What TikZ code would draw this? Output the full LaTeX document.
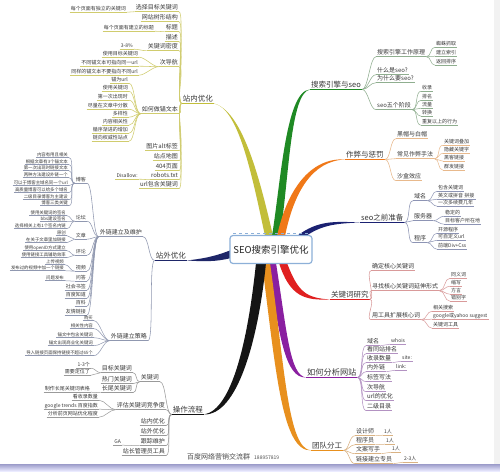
\documentclass[tikz,border=0pt]{standalone}
\usepackage{fontspec}
\setmainfont{Noto Sans CJK SC}
\usetikzlibrary{calc}
\pgfdeclarelayer{bg}
\pgfdeclarelayer{back}
\pgfsetlayers{back,bg,main}
\definecolor{cY}{HTML}{C2BE3A}\definecolor{lY}{HTML}{D0CC6E}
\definecolor{cG}{HTML}{1F8A24}\definecolor{lG}{HTML}{8FAE8F}
\definecolor{cO}{HTML}{F07818}\definecolor{lO}{HTML}{E8B98C}
\definecolor{cN}{HTML}{1B2272}\definecolor{lN}{HTML}{8D94B4}
\definecolor{cR}{HTML}{E02020}\definecolor{lR}{HTML}{D99A9A}
\definecolor{cP}{HTML}{8A1FA0}\definecolor{lP}{HTML}{B392C2}
\definecolor{cA}{HTML}{E8901E}\definecolor{lA}{HTML}{D9B283}
\definecolor{cK}{HTML}{151515}\definecolor{lK}{HTML}{9A9A9A}
\definecolor{cS}{HTML}{1E2668}\definecolor{lS}{HTML}{9098B0}
\definecolor{boxc}{HTML}{8DB0D8}
\begin{document}
\begin{tikzpicture}[x=1pt,y=-1pt,
 base/.style={inner xsep=1pt,inner ysep=0.6pt,text=black!78},
 m/.style={base,font={\fontsize{7.5}{8}\selectfont},text height=6pt,text depth=1.3pt},
 s/.style={base,font={\fontsize{6}{7}\selectfont},text height=4.8pt,text depth=1pt},
 t/.style={base,font={\fontsize{5}{6}\selectfont},text height=4pt,text depth=.8pt},
 tt/.style={base,font={\fontsize{4.4}{5}\selectfont},text height=3.5pt,text depth=.7pt,inner ysep=.4pt},
 u/.style={append after command={(\tikzlastnode.south west) edge[draw=#1,line width=.55pt] (\tikzlastnode.south east)}},
 U/.style={append after command={(\tikzlastnode.south west) edge[draw=#1,line width=1.1pt] (\tikzlastnode.south east)}},
 toL/.style={out=180,in=0,max distance=6pt},
 toR/.style={out=0,in=180,max distance=6pt},
]
\useasboundingbox (0,0) rectangle (500,471);
\begin{pgfonlayer}{back}
\fill[white] (0,0) rectangle (500,471);
\fill[black!5] (494,0) rectangle (500,464);
\fill[top color=blue!30!gray!60, bottom color=blue!8] (0,464) rectangle (500,471);
\end{pgfonlayer}

% root
\node[draw=boxc,line width=1.2pt,rounded corners=3pt,fill=white,minimum width=82pt,minimum height=28pt,
  font={\fontsize{9.5}{11}\selectfont},inner sep=2pt,text=black!85] (root) at (271,249.5) {SEO搜索引擎优化};
\draw[boxc,dashed,line width=1pt] ($(root.north west)+(4,-1.6)$) -- ($(root.north east)+(-4,-1.6)$);

% ---------------- 站内优化
\begin{scope}[every node/.append style={u=lY}]
\node[m,U=cY,anchor=east] (zn) at (214,99) {站内优化};
\node[s,anchor=east] (zn1) at (179,8) {选择目标关键词};
\node[s,anchor=east] (zn2) at (179,18) {网站树形结构};
\node[s,anchor=east] (zn3) at (179,28) {标题};
\node[s,anchor=east] (zn4) at (179,38) {描述};
\node[s,anchor=east] (zn5) at (179,47) {关键词密度};
\node[s,anchor=east] (zn6) at (179,63) {次导航};
\node[s,anchor=east] (zn7) at (179,110) {如何做锚文本};
\node[s,anchor=east] (zn8) at (179,147) {图片alt标签};
\node[s,anchor=east] (zn9) at (179,157) {站点地图};
\node[s,anchor=east] (zn10) at (179,167) {404页面};
\node[s,anchor=east] (zn11) at (179,176) {robots.txt};
\node[s,anchor=east] (zn12) at (179,185) {url包含关键词};
\node[t,anchor=east] (zn1a) at (127,9) {每个页面有独立的关键词};
\node[t,anchor=east] (zn3a) at (155,28) {每个页面有建立的标题};
\node[t,anchor=east] (zn5a) at (134,46) {3-8\%};
\node[t,anchor=east] (zn6a) at (139,54) {使用目标关键词};
\node[t,anchor=east] (zn6b) at (139,63) {不同锚文本可指向同一url};
\node[t,anchor=east] (zn6c) at (139,72) {同样的锚文本不要指向不同url};
\node[t,anchor=east] (zn7a) at (129,80) {锚为url};
\node[t,anchor=east] (zn7b) at (129,88) {使用关键词};
\node[t,anchor=east] (zn7c) at (129,97) {第一次出现时};
\node[t,anchor=east] (zn7d) at (129,106) {尽量在文章中分散};
\node[t,anchor=east] (zn7e) at (129,114) {多样性};
\node[t,anchor=east] (zn7f) at (129,122) {内容相关性};
\node[t,anchor=east] (zn7g) at (129,130) {循序渐进的增加};
\node[t,anchor=east] (zn7h) at (129,138) {链向权威性站点};
\node[t,anchor=east] (zn11a) at (139,176) {Disallow:};
\end{scope}
\foreach \c in {zn1,zn2,zn3,zn4,zn5,zn6,zn7,zn8,zn9,zn10,zn11,zn12}
  \draw[lY,line width=.55pt] (zn.south west) to[toL] (\c.south east);
\draw[lY,line width=.55pt] (zn1.south west) to[toL] (zn1a.south east);
\draw[lY,line width=.55pt] (zn3.south west) to[toL] (zn3a.south east);
\draw[lY,line width=.55pt] (zn5.south west) to[toL] (zn5a.south east);
\foreach \c in {zn6a,zn6b,zn6c} \draw[lY,line width=.55pt] (zn6.south west) to[toL] (\c.south east);
\foreach \c in {zn7a,zn7b,zn7c,zn7d,zn7e,zn7f,zn7g,zn7h} \draw[lY,line width=.55pt] (zn7.south west) to[toL] (\c.south east);
\draw[lY,line width=.55pt] (zn11.south west) to[toL] (zn11a.south east);

% ---------------- 站外优化
\begin{scope}[every node/.append style={u=lS}]
\node[m,U=cS,anchor=east] (zw) at (187,256) {站外优化};
\node[s,anchor=east] (zw1) at (143,233) {外链建立及维护};
\node[s,anchor=east] (zw2) at (148,337) {外链建立策略};
\node[t,anchor=east] (bk) at (87,180) {博客};
\node[t,anchor=east] (lt) at (87,218) {论坛};
\node[t,anchor=east] (wz) at (87,236) {文章};
\node[t,anchor=east] (pl) at (87,252) {评论};
\node[t,anchor=east] (sp) at (87,268) {视频};
\node[t,anchor=east] (wd) at (87,278) {问答};
\node[t,anchor=east] (sq) at (87,287) {社会书签};
\node[t,anchor=east] (zd) at (87,295) {百度知道};
\node[t,anchor=east] (bkk) at (87,303) {百科};
\node[t,anchor=east] (yq) at (87,312) {友情链接};
\node[tt,anchor=east] (bk1) at (69,155) {内容有用且相关};
\node[tt,anchor=east] (bk2) at (69,162) {根据文章有3个锚文本};
\node[tt,anchor=east] (bk3) at (69,168) {第一次出现时链接文本};
\node[tt,anchor=east] (bk4) at (69,175) {两种方法建设外链一个};
\node[tt,anchor=east] (bk5) at (69,183) {可以于博客主域名同一个url};
\node[tt,anchor=east] (bk6) at (69,190) {高质量博客可以给多个域名};
\node[tt,anchor=east] (bk7) at (69,197) {二级目录博客为主建设};
\node[tt,anchor=east] (bk8) at (69,203) {博客三类关键};
\node[tt,anchor=east] (lt1) at (67,213) {使用关键词的签名};
\node[tt,anchor=east] (lt2) at (67,219) {bbs建设签名};
\node[tt,anchor=east] (lt3) at (67,226) {选择相关上有1个签名内链};
\node[tt,anchor=east] (wz1) at (67,233) {原创};
\node[tt,anchor=east] (wz2) at (67,240) {在关于文章里加链接};
\node[tt,anchor=east] (pl1) at (67,248) {使用openID方式建立};
\node[tt,anchor=east] (pl2) at (67,255) {使用链接工具辅助效率};
\node[tt,anchor=east] (sp1) at (65,262) {上传视频};
\node[tt,anchor=east] (sp2) at (65,268) {发布过的视频中加一个链接};
\node[tt,anchor=east] (wd1) at (65,278) {问题发布};
\node[tt,anchor=east] (cl1) at (94,318) {购买};
\node[tt,anchor=east] (cl2) at (94,326) {相关性内容};
\node[tt,anchor=east] (cl3) at (94,335) {锚文中包含关键词};
\node[tt,anchor=east] (cl4) at (94,343) {锚文出现商业化关键词};
\node[tt,anchor=east] (cl5) at (94,353) {导入链接页面保持链接不超过65个};
\end{scope}
\foreach \c in {zw1,zw2} \draw[lS,line width=.55pt] (zw.south west) to[toL] (\c.south east);
\foreach \c in {bk,lt,wz,pl,sp,wd,sq,zd,bkk,yq} \draw[lS,line width=.55pt] (zw1.south west) to[toL] (\c.south east);
\foreach \c in {bk1,bk2,bk3,bk4,bk5,bk6,bk7,bk8} \draw[lS,line width=.5pt] (bk.south west) to[toL] (\c.south east);
\foreach \c in {lt1,lt2,lt3} \draw[lS,line width=.5pt] (lt.south west) to[toL] (\c.south east);
\foreach \c in {wz1,wz2} \draw[lS,line width=.5pt] (wz.south west) to[toL] (\c.south east);
\foreach \c in {pl1,pl2} \draw[lS,line width=.5pt] (pl.south west) to[toL] (\c.south east);
\foreach \c in {sp1,sp2} \draw[lS,line width=.5pt] (sp.south west) to[toL] (\c.south east);
\draw[lS,line width=.5pt] (wd.south west) to[toL] (wd1.south east);
\foreach \c in {cl1,cl2,cl3,cl4,cl5} \draw[lS,line width=.5pt] (zw2.south west) to[toL] (\c.south east);

% ---------------- 操作流程
\begin{scope}[every node/.append style={u=lK}]
\node[m,U=cK,anchor=east] (cz) at (204,410) {操作流程};
\node[s,anchor=east] (cz1) at (160,378) {关键词};
\node[s,anchor=east] (cz2) at (166,406) {评估关键词竞争度};
\node[s,anchor=east] (cz3) at (166,422) {站内优化};
\node[s,anchor=east] (cz4) at (166,432) {站外优化};
\node[s,anchor=east] (cz5) at (166,442) {跟踪维护};
\node[s,anchor=east] (cz6) at (166,452) {站长管理员工具};
\node[s,anchor=east] (k1) at (133,369) {目标关键词};
\node[s,anchor=east] (k2) at (133,380) {热门关键词};
\node[s,anchor=east] (k3) at (133,389) {长尾关键词};
\node[t,anchor=east] (k1a) at (91,365) {1-3个};
\node[t,anchor=east] (k1b) at (91,372) {需要定位了};
\node[t,anchor=east] (k3a) at (91,389) {制作长尾关键词表格};
\node[t,anchor=east] (p1) at (99,397) {看收录数量};
\node[t,anchor=east] (p2) at (99,406) {google trends 百度指数};
\node[t,anchor=east] (p3) at (99,414) {分析前页网站优化程度};
\node[t,anchor=east] (ga) at (122,442) {GA};
\end{scope}
\foreach \c in {cz1,cz2,cz3,cz4,cz5,cz6} \draw[lK,line width=.55pt] (cz.south west) to[toL] (\c.south east);
\foreach \c in {k1,k2,k3} \draw[lK,line width=.55pt] (cz1.south west) to[toL] (\c.south east);
\foreach \c in {k1a,k1b} \draw[lK,line width=.5pt] (k1.south west) to[toL] (\c.south east);
\draw[lK,line width=.5pt] (k3.south west) to[toL] (k3a.south east);
\foreach \c in {p1,p2,p3} \draw[lK,line width=.5pt] (cz2.south west) to[toL] (\c.south east);
\draw[lK,line width=.5pt] (cz5.south west) to[toL] (ga.south east);

% ---------------- 搜索引擎与seo
\begin{scope}[every node/.append style={u=lG}]
\node[m,U=cG,anchor=west] (ss) at (310,85) {搜索引擎与seo};
\node[s,anchor=west] (ss1) at (376,53) {搜索引擎工作原理};
\node[s,anchor=west] (ss2) at (376,71) {什么是seo?};
\node[s,anchor=west] (ss3) at (376,79) {为什么要seo?};
\node[s,anchor=west] (ss4) at (376,106) {seo五个阶段};
\node[t,anchor=west] (ss1a) at (435,44) {蜘蛛抓取};
\node[t,anchor=west] (ss1b) at (435,53) {建立索引};
\node[t,anchor=west] (ss1c) at (435,62) {返回排序};
\node[t,anchor=west] (ss4a) at (421,88) {收录};
\node[t,anchor=west] (ss4b) at (421,97) {排名};
\node[t,anchor=west] (ss4c) at (421,105) {流量};
\node[t,anchor=west] (ss4d) at (421,113) {转换};
\node[t,anchor=west] (ss4e) at (421,122) {重复以上的行为};
\end{scope}
\foreach \c in {ss1,ss2,ss3,ss4} \draw[lG,line width=.55pt] (ss.south east) to[toR] (\c.south west);
\foreach \c in {ss1a,ss1b,ss1c} \draw[lG,line width=.5pt] (ss1.south east) to[toR] (\c.south west);
\foreach \c in {ss4a,ss4b,ss4c,ss4d,ss4e} \draw[lG,line width=.5pt] (ss4.south east) to[toR] (\c.south west);

% ---------------- 作弊与惩罚
\begin{scope}[every node/.append style={u=lO}]
\node[m,U=cO,anchor=west] (zb) at (345,155) {作弊与惩罚};
\node[s,anchor=west] (zb1) at (396,135) {黑帽与白帽};
\node[s,anchor=west] (zb2) at (396,155) {常见作弊手法};
\node[s,anchor=west] (zb3) at (396,177) {沙盒效应};
\node[t,anchor=west] (zb2a) at (443,142) {关键词叠加};
\node[t,anchor=west] (zb2b) at (443,150) {隐藏关键字};
\node[t,anchor=west] (zb2c) at (443,158) {黑客链接};
\node[t,anchor=west] (zb2d) at (443,167) {群发链接};
\end{scope}
\foreach \c in {zb1,zb2,zb3} \draw[lO,line width=.55pt] (zb.south east) to[toR] (\c.south west);
\foreach \c in {zb2a,zb2b,zb2c,zb2d} \draw[lO,line width=.5pt] (zb2.south east) to[toR] (\c.south west);

% ---------------- seo之前准备
\begin{scope}[every node/.append style={u=lN}]
\node[m,U=cN,anchor=west] (qb) at (360,218) {seo之前准备};
\node[s,anchor=west] (qb1) at (413,197) {域名};
\node[s,anchor=west] (qb2) at (413,217) {服务器};
\node[s,anchor=west] (qb3) at (413,239) {程序};
\node[t,anchor=west] (qb1a) at (437,188) {包含关键词};
\node[t,anchor=west] (qb1b) at (437,196) {英文或拼音 拼接};
\node[t,anchor=west] (qb1c) at (437,203) {一次多续费几年};
\node[t,anchor=west] (qb2a) at (444,213) {稳定的};
\node[t,anchor=west] (qb2b) at (444,221) {目标客户所在地};
\node[t,anchor=west] (qb3a) at (437,230) {开源程序};
\node[t,anchor=west] (qb3b) at (437,237) {可自定义url};
\node[t,anchor=west] (qb3c) at (437,246) {前端Div+Css};
\end{scope}
\foreach \c in {qb1,qb2,qb3} \draw[lN,line width=.55pt] (qb.south east) to[toR] (\c.south west);
\foreach \c in {qb1a,qb1b,qb1c} \draw[lN,line width=.5pt] (qb1.south east) to[toR] (\c.south west);
\foreach \c in {qb2a,qb2b} \draw[lN,line width=.5pt] (qb2.south east) to[toR] (\c.south west);
\foreach \c in {qb3a,qb3b,qb3c} \draw[lN,line width=.5pt] (qb3.south east) to[toR] (\c.south west);

% ---------------- 关键词研究
\begin{scope}[every node/.append style={u=lR}]
\node[m,U=cR,anchor=west] (gj) at (330,295) {关键词研究};
\node[s,anchor=west] (gj1) at (371,267) {确定核心关键词};
\node[s,anchor=west] (gj2) at (371,287) {寻找核心关键词延伸形式};
\node[s,anchor=west] (gj3) at (371,316) {用工具扩展核心词};
\node[t,anchor=west] (gj2a) at (450,275) {同义词};
\node[t,anchor=west] (gj2b) at (450,283) {缩写};
\node[t,anchor=west] (gj2c) at (450,291) {方言};
\node[t,anchor=west] (gj2d) at (450,298) {错别字};
\node[t,anchor=west] (gj3a) at (432,308) {相关搜索};
\node[t,anchor=west] (gj3b) at (432,316) {google或yahoo suggest};
\node[t,anchor=west] (gj3c) at (432,325) {关键词工具};
\end{scope}
\foreach \c in {gj1,gj2,gj3} \draw[lR,line width=.55pt] (gj.south east) to[toR] (\c.south west);
\foreach \c in {gj2a,gj2b,gj2c,gj2d} \draw[lR,line width=.5pt] (gj2.south east) to[toR] (\c.south west);
\foreach \c in {gj3a,gj3b,gj3c} \draw[lR,line width=.5pt] (gj3.south east) to[toR] (\c.south west);

% ---------------- 如何分析网站
\begin{scope}[every node/.append style={u=lP}]
\node[m,U=cP,anchor=west,font={\fontsize{8.2}{9}\selectfont}] (fx) at (306,373) {如何分析网站};
\node[s,anchor=west] (fx1) at (366,342) {域名};
\node[s,anchor=west] (fx2) at (366,350) {看同站排名};
\node[s,anchor=west] (fx3) at (366,359) {收录数量};
\node[s,anchor=west] (fx4) at (366,368) {内外链};
\node[s,anchor=west] (fx5) at (366,378) {标签写法};
\node[s,anchor=west] (fx6) at (366,388) {次导航};
\node[s,anchor=west] (fx7) at (366,397) {url的优化};
\node[s,anchor=west] (fx8) at (366,407) {二级目录};
\node[t,anchor=west] (fx1a) at (390,341) {whois};
\node[t,anchor=west] (fx3a) at (401,358) {site:};
\node[t,anchor=west] (fx4a) at (395,367) {link:};
\end{scope}
\foreach \c in {fx1,fx2,fx3,fx4,fx5,fx6,fx7,fx8} \draw[lP,line width=.55pt] (fx.south east) to[toR] (\c.south west);
\draw[lP,line width=.5pt] (fx1.south east) to[toR] (fx1a.south west);
\draw[lP,line width=.5pt] (fx3.south east) to[toR] (fx3a.south west);
\draw[lP,line width=.5pt] (fx4.south east) to[toR] (fx4a.south west);

% ---------------- 团队分工
\begin{scope}[every node/.append style={u=lA}]
\node[m,U=cA,anchor=west] (td) at (311,446) {团队分工};
\node[s,anchor=west] (td1) at (355,432) {设计师};
\node[s,anchor=west] (td2) at (355,441) {程序员};
\node[s,anchor=west] (td3) at (355,450) {文案写手};
\node[s,anchor=west] (td4) at (355,460) {链接建立专员};
\node[t,anchor=west] (td1a) at (383,432) {1人};
\node[t,anchor=west] (td2a) at (385,441) {1人};
\node[t,anchor=west] (td3a) at (391,449) {1人};
\node[t,anchor=west] (td4a) at (403,459) {2-3人};
\end{scope}
\foreach \c in {td1,td2,td3,td4} \draw[lA,line width=.55pt] (td.south east) to[toR] (\c.south west);
\draw[lA,line width=.5pt] (td1.south east) to[toR] (td1a.south west);
\draw[lA,line width=.5pt] (td2.south east) to[toR] (td2a.south west);
\draw[lA,line width=.5pt] (td3.south east) to[toR] (td3a.south west);
\draw[lA,line width=.5pt] (td4.south east) to[toR] (td4a.south west);

% footer
\node[base,anchor=west,font={\fontsize{7}{8}\selectfont},text=black!70] (ft) at (186,457) {百度网络营销交流群\hspace{4pt}{\fontsize{5}{6}\selectfont 188957819}};

% ---------------- thick main branches
\begin{pgfonlayer}{bg}
\fill[cY] (265,236) .. controls (251,170) and (238,108.5) .. (zn.south east) .. controls (241,111) and (258,170) .. (273,236) -- cycle;
\fill[cG] (272,236) .. controls (281,180) and (286,90.5) .. (ss.south west) .. controls (290,93) and (289,180) .. (280,236) -- cycle;
\fill[cO] (277,236) .. controls (287,190) and (310,157.5) .. (zb.south west) .. controls (312,161) and (294,192) .. (285,236) -- cycle;
\fill[cN] (297,236) .. controls (318,220) and (335,221.5) .. (qb.south west) .. controls (336,223.5) and (322,225) .. (306,236) -- cycle;
\fill[cR] (279,263) .. controls (290,297) and (305,300.5) .. (gj.south west) .. controls (306,298) and (298,292) .. (287,263) -- cycle;
\fill[cP] (268,263) .. controls (279,335) and (285,378.5) .. (fx.south west) .. controls (290,375.5) and (287,333) .. (276,263) -- cycle;
\fill[cA] (262,263) .. controls (276,372) and (282,451.5) .. (td.south west) .. controls (288,448.5) and (285,370) .. (270,263) -- cycle;
\fill[cK] (256,263) .. controls (248,340) and (232,410) .. (cz.south east) .. controls (237,415.5) and (258,342) .. (266,263) -- cycle;
\fill[cS] (231,250) .. controls (214,257) and (200,259) .. (zw.south east) .. controls (202,261.5) and (216,262) .. (231,258) -- cycle;
\end{pgfonlayer}
\end{tikzpicture}
\end{document}
